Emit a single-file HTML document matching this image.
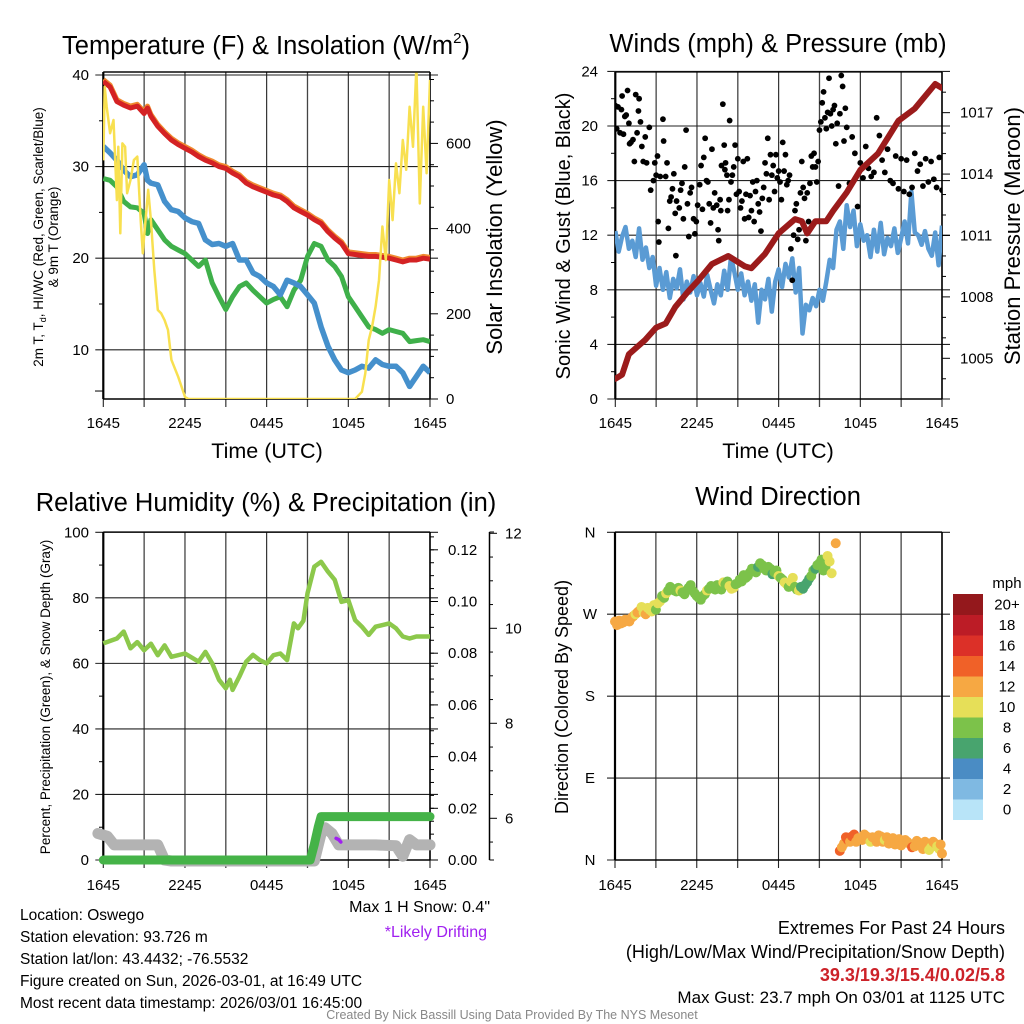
<!DOCTYPE html>
<html><head><meta charset="utf-8"><style>
html,body{margin:0;padding:0;background:#fff;}
svg{display:block;font-family:"Liberation Sans",sans-serif;}
</style></head><body>
<svg id="fig" width="1024" height="1024" viewBox="0 0 1024 1024" xmlns="http://www.w3.org/2000/svg">
<defs>
<clipPath id="c1"><rect x="103" y="72" width="327" height="327"/></clipPath>
<clipPath id="c2"><rect x="615" y="72" width="327" height="327"/></clipPath>
<clipPath id="c3"><rect x="92" y="520" width="350" height="350"/></clipPath>
<clipPath id="c4"><rect x="605" y="525" width="345" height="345"/></clipPath>
</defs>
<rect width="1024" height="1024" fill="#fff"/>
<g id="static" font-size="14" fill="#000">
<text x="266" y="54" font-size="25.5" text-anchor="middle">Temperature (F) &amp; Insolation (W/m<tspan font-size="15" dy="-11">2</tspan><tspan dy="11">)</tspan></text>
<text x="778" y="52" font-size="25.5" text-anchor="middle">Winds (mph) &amp; Pressure (mb)</text>
<text x="266" y="511" font-size="25.5" text-anchor="middle">Relative Humidity (%) &amp; Precipitation (in)</text>
<text x="778" y="505" font-size="25.5" text-anchor="middle">Wind Direction</text>
<text x="267" y="458" font-size="21.5" text-anchor="middle">Time (UTC)</text>
<text x="778" y="458" font-size="21.5" text-anchor="middle">Time (UTC)</text>
<text transform="translate(43,237) rotate(-90)" font-size="13.5" text-anchor="middle">2m T, T<tspan font-size="9" dy="3">d</tspan><tspan dy="-3">, HI/WC (Red, Green, Scarlet/Blue)</tspan></text>
<text transform="translate(58,237) rotate(-90)" font-size="13.5" text-anchor="middle">&amp; 9m T (Orange)</text>
<text transform="translate(502,237) rotate(-90)" font-size="22" text-anchor="middle">Solar Insolation (Yellow)</text>
<text transform="translate(570,236) rotate(-90)" font-size="20" text-anchor="middle">Sonic Wind &amp; Gust (Blue, Black)</text>
<text transform="translate(1020,236) rotate(-90)" font-size="22" text-anchor="middle">Station Pressure (Maroon)</text>
<text transform="translate(50,697) rotate(-90)" font-size="13.5" text-anchor="middle">Percent, Precipitation (Green), &amp; Snow Depth (Gray)</text>
<text transform="translate(568,697) rotate(-90)" font-size="18" text-anchor="middle">Direction (Colored By Speed)</text>
<text x="490" y="912" font-size="16" text-anchor="end">Max 1 H Snow: 0.4"</text>
<text x="487" y="937" font-size="16" text-anchor="end" fill="#a020f0">*Likely Drifting</text>
<text x="20" y="920" font-size="15.5">Location: Oswego</text>
<text x="20" y="942" font-size="15.5">Station elevation: 93.726 m</text>
<text x="20" y="964" font-size="15.5">Station lat/lon: 43.4432; -76.5532</text>
<text x="20" y="986" font-size="15.5">Figure created on Sun, 2026-03-01, at 16:49 UTC</text>
<text x="20" y="1008" font-size="15.5">Most recent data timestamp: 2026/03/01 16:45:00</text>
<text x="1005" y="934" font-size="18" text-anchor="end">Extremes For Past 24 Hours</text>
<text x="1005" y="958" font-size="18" text-anchor="end">(High/Low/Max Wind/Precipitation/Snow Depth)</text>
<text x="1005" y="981" font-size="18" text-anchor="end" fill="#cc2229" font-weight="bold">39.3/19.3/15.4/0.02/5.8</text>
<text x="1005" y="1003" font-size="17" text-anchor="end">Max Gust: 23.7 mph On 03/01 at 1125 UTC</text>
<text x="512" y="1019" font-size="12.5" fill="#888" text-anchor="middle">Created By Nick Bassill Using Data Provided By The NYS Mesonet</text>
<text x="1007" y="588" font-size="15" text-anchor="middle">mph</text>
</g>
<g id="dyn"></g>
</svg>
<script>
// ---------- DATA ----------
const xTickLabels = ["1645","2245","0445","1045","1645"];
const tempT = [0,0.5,1,1.5,2,2.5,3,3.25,3.5,4,4.5,5,5.5,6,6.5,7,7.5,8,8.5,9,9.5,10,10.5,11,11.5,12,12.5,13,13.5,14,14.5,15,15.5,16,16.5,17,17.5,18,18.5,19,19.5,20,20.5,21,21.5,22,22.5,23,23.5,24];
const redT = [39.3,38.7,37.1,36.7,36.4,36.6,35.8,36.4,35.5,34.4,33.6,32.9,32.4,32.0,31.6,31.1,30.7,30.4,30.0,29.8,29.3,28.9,28.2,27.8,27.5,27.2,26.9,26.7,26.2,25.5,25.1,24.7,24.2,23.8,22.9,22.2,21.6,20.5,20.4,20.3,20.2,20.2,20.1,20.0,19.8,19.6,19.8,19.8,20.0,19.9];
const orangeT = [39.5,38.9,37.3,36.9,36.6,36.8,36.0,36.6,35.7,34.6,33.8,33.1,32.6,32.2,31.8,31.3,30.9,30.6,30.2,30.0,29.5,29.1,28.4,28.0,27.7,27.4,27.1,26.9,26.4,25.7,25.3,24.9,24.4,24.0,23.1,22.4,21.8,20.7,20.6,20.5,20.4,20.4,20.3,20.2,20.0,19.8,20.0,20.0,20.2,20.1];
const blueT = [32.2,31.5,30.7,29.6,28.9,29.1,30.2,28.5,28.2,28.0,26.2,25.3,25.1,24.4,24.0,23.8,22.0,21.5,21.6,21.3,21.6,19.8,19.8,18.4,18.0,17.3,16.9,16.0,17.6,17.3,16.9,16.0,15.1,12.5,10.4,8.9,7.8,7.5,7.8,8.2,8.0,8.9,8.4,8.2,8.2,7.5,6.0,7.1,8.2,7.5];
const greenT = [28.7,28.5,27.8,26.2,25.6,25.5,24.9,22.7,24.2,23.1,22.0,21.3,20.9,20.5,19.8,19.1,19.8,17.3,15.8,14.4,15.8,16.9,17.3,16.5,15.8,15.1,15.5,15.8,14.7,16.5,17.6,20.2,21.6,21.3,19.8,19.1,18.0,15.8,14.7,13.6,12.5,12.2,11.8,12.2,12.0,11.8,10.9,11.0,11.1,10.9];
const solarT = [0,0.1,0.25,0.5,0.75,1,1.1,1.25,1.4,1.6,1.75,2,2.25,2.5,2.75,2.9,3,3.3,3.5,3.75,4,4.25,4.5,4.75,5,5.5,6,6.25,18.5,19,19.25,19.5,19.75,20,20.25,20.5,20.75,21,21.25,21.5,21.75,22,22.25,22.5,22.75,23,23.25,23.5,23.75,24];
const solarV = [560,733,686,624,655,467,592,389,600,592,483,514,561,569,420,342,381,491,420,303,209,201,185,162,92,52,5,0,0,17,60,138,170,217,279,405,326,514,420,553,483,608,538,686,592,780,459,686,530,749];
const tempTicks = [10,20,30,40];
const solarTicks = [0,200,400,600];

const windT = []; // times at 0.25 h steps, indexed from windV
const windV = [12.3,10.8,11.9,12.6,11.0,11.6,10.4,12.5,10.2,11.1,9.6,10.4,8.3,
9.6,8.0,9.3,7.4,8.8,8.1,9.5,7.3,8.6,7.8,9.0,7.6,
8.5,7.5,9.1,8.0,7.0,8.4,7.6,9.4,8.0,10.4,9.3,8.0,
9.2,7.6,8.6,7.2,8.4,5.6,8.0,7.3,8.8,6.4,8.6,9.5,
8.2,9.9,8.9,10.3,7.8,9.6,4.8,6.9,6.5,7.4,6.8,8.0,
7.2,8.6,10.2,9.6,12.4,13.0,11.0,14.2,12.6,13.8,11.2,12.8,
11.6,12.0,10.4,12.4,10.8,12.9,10.6,11.8,11.2,12.5,10.7,11.8,
13.0,11.4,15.2,12.2,12.0,11.3,12.3,11.0,10.5,12.2,9.8,12.7];
const presT = [0,0.5,1,2.2,3,3.7,4.4,5.4,6.1,7.1,8.3,9.5,10,11,12,13.2,13.7,14.1,14.7,15.5,16,17,18,19.3,20.8,22,23,23.5,24];
const presV = [1004.0,1004.2,1005.2,1005.9,1006.5,1006.7,1007.5,1008.3,1008.8,1009.6,1010.0,1009.5,1009.4,1010.1,1011.1,1011.8,1011.7,1011.1,1011.7,1011.7,1012.2,1013.1,1014.2,1015.0,1016.6,1017.2,1018.0,1018.4,1018.2];
const gustT = [0,0.1,0.2,0.35,0.45,0.5,0.6,0.7,0.8,0.9,1.0,1.05,1.15,1.3,1.4,1.5,1.6,1.7,1.75,1.85,1.95,2.05,2.2,2.3,2.5,2.6,2.8,2.9,3.0,3.1,3.15,3.2,3.3,3.5,3.55,3.7,3.8,3.9,4.0,4.1,4.2,4.3,4.4,4.45,4.5,4.7,4.8,4.9,5.0,5.1,5.2,5.3,5.4,5.5,5.6,5.75,5.85,5.95,6.05,6.2,6.3,6.4,6.5,6.6,6.7,6.8,6.9,7.0,7.1,7.2,7.3,7.45,7.55,7.6,7.7,7.75,7.8,7.9,8.0,8.05,8.1,8.2,8.25,8.35,8.4,8.5,8.6,8.7,8.8,8.9,9.0,9.1,9.2,9.3,9.4,9.5,9.6,9.7,9.8,9.9,10.0,10.1,10.2,10.3,10.4,10.5,10.6,10.7,10.8,10.9,11.0,11.1,11.2,11.3,11.4,11.5,11.6,11.7,11.8,11.9,12.0,12.1,12.2,12.3,12.4,12.5,12.6,12.7,12.8,12.9,13.0,13.1,13.2,13.3,13.4,13.5,13.6,13.7,13.8,13.9,14.0,14.1,14.2,14.3,14.4,14.5,14.6,14.7,14.8,14.9,15.0,15.1,15.2,15.3,15.4,15.5,15.6,15.7,15.8,15.9,16.0,16.1,16.2,16.3,16.4,16.5,16.6,16.7,16.8,16.9,17.0,17.2,17.4,17.6,17.8,18.0,18.2,18.4,18.6,18.8,19.0,19.2,19.4,19.6,19.8,20.0,20.2,20.4,20.6,20.8,21.0,21.2,21.4,21.6,21.8,22.0,22.2,22.4,22.6,22.8,23.0,23.2,23.4,23.6,23.8,24.0];
const gustV = [21.5,19.8,21.4,19.5,21.2,22.2,19.4,20.7,20.8,22.6,20.2,18.7,18.8,19.0,17.4,22.3,19.5,21.1,22.0,20.3,18.5,17.4,19.2,17.3,19.9,15.3,16.0,17.3,16.4,17.8,13.0,11.5,16.3,20.5,18.9,16.3,17.3,12.5,14.5,14.8,15.4,16.5,13.6,10.5,14.5,14.0,15.3,15.8,13.2,17.0,19.7,14.3,11.9,15.1,15.5,13.2,12.1,13.0,14.2,15.7,17.1,13.9,17.7,19.1,16.0,15.9,14.3,12.9,18.3,14.0,15.1,14.2,12.4,11.6,14.6,13.8,17.1,21.6,18.6,16.8,17.3,16.4,13.8,14.6,20.4,15.9,16.4,17.0,18.6,15.0,17.6,15.2,14.0,14.5,17.4,13.2,15.0,17.6,13.3,14.9,13.8,15.9,13.0,15.2,16.0,14.3,13.7,12.3,14.7,15.5,17.3,16.5,19.1,14.6,17.9,16.4,17.1,15.2,17.9,16.2,16.7,15.9,14.6,18.8,16.7,17.9,15.7,16.0,16.4,11.0,8.7,12.0,13.8,14.3,11.7,12.4,15.1,17.4,15.5,14.7,11.6,15.1,13.0,15.8,17.8,17.0,18.0,17.0,15.9,17.4,19.7,20.3,21.7,22.5,20.6,19.8,21.0,23.5,20.9,20.0,21.2,21.5,18.7,20.2,15.6,20.9,23.7,22.9,18.9,21.3,19.9,15.8,19.2,18.0,14.1,17.3,16.2,18.5,16.9,16.3,16.6,20.6,19.3,17.5,16.6,18.3,16.0,15.8,17.8,15.4,17.6,15.2,17.5,15.0,15.5,18.0,16.7,17.2,15.6,17.6,15.9,17.4,16.1,15.5,17.7,15.3,17.5];
const windTicks = [0,4,8,12,16,20,24];
const presTicks = [1005,1008,1011,1014,1017];

const rhT = [0,1,1.5,2,2.5,3,3.5,4,4.5,5,6,7,7.5,8,8.5,9,9.3,9.5,10,10.5,11,11.5,12,12.5,13,13.5,14,14.3,14.7,15,15.5,16,16.5,17,17.5,18,18.5,19,19.5,20,21,21.5,22,22.5,23,24];
const rhV = [66.1,67.6,69.7,64.6,66.5,64.0,66.0,62.5,65.5,62.0,63.0,60.5,63.5,60.0,55.0,52.4,55.0,51.9,56.0,60.5,62.6,61.0,60.0,62.5,63.0,61.0,72.2,70.7,73.0,81.4,89.5,91.0,88.0,85.5,78.8,79.3,73.2,71.2,68.7,71.2,72.2,70.7,68.2,67.6,68.2,68.2];
const precT = [0,15.2,15.5,15.8,16.0,24];
const precV = [0,0,0.006,0.013,0.0168,0.0168];
const snowT = [-0.4,0.3,0.8,2,3,4,4.5,5,10,15.5,16,16.3,16.8,17.3,18,20,21.5,22,22.5,23,24];
const snowV = [5.68,5.62,5.44,5.44,5.44,5.44,5.12,5.1,5.1,5.1,5.68,5.80,5.68,5.44,5.44,5.44,5.42,5.2,5.55,5.44,5.44];
const driftT = [17.1,17.3,17.45];
const driftV = [5.58,5.55,5.5];
const rhTicks = [0,20,40,60,80,100];
const precTicks = [0.00,0.02,0.04,0.06,0.08,0.10,0.12];
const snowTicks = [6,8,10,12];

const dirT = [0,0.15,0.3,0.45,0.6,0.75,0.9,1.05,1.2,1.35,1.5,1.65,1.8,1.95,2.1,2.25,2.4,2.55,2.7,2.85,3.0,3.15,3.3,3.45,3.6,3.75,3.9,4.05,4.2,4.35,4.5,4.65,4.8,4.95,5.1,5.25,5.4,5.55,5.7,5.85,6.0,6.15,6.3,6.45,6.6,6.75,6.9,7.05,7.2,7.35,7.5,7.65,7.8,7.95,8.1,8.25,8.4,8.55,8.7,8.85,9.0,9.15,9.3,9.45,9.6,9.75,9.9,10.05,10.2,10.35,10.5,10.65,10.8,10.95,11.1,11.25,11.4,11.55,11.7,11.85,12.0,12.15,12.3,12.45,12.6,12.75,12.9,13.05,13.2,13.35,13.5,13.65,13.8,13.95,14.1,14.25,14.4,14.55,14.7,14.85,15.0,15.15,15.3,15.45,15.6,15.75,15.9,16.2,
16.5,16.65,16.8,16.95,17.1,17.25,17.4,17.55,17.7,17.85,18.0,18.15,18.3,18.45,18.6,18.75,18.9,19.05,19.2,19.35,19.5,19.65,19.8,19.95,20.1,20.25,20.4,20.55,20.7,20.85,21.0,21.15,21.3,21.45,21.6,21.8,22.0,22.15,22.3,22.45,22.6,22.75,22.9,23.05,23.2,23.35,23.5,23.65,23.8,23.9,24.0];
const dirV = [262,258,263,260,261,264,263,262,266,268,270,272,274,278,272,270,277,275,273,280,275,282,284,290,288,293,296,300,298,296,295,299,296,294,292,296,299,302,296,293,290,288,286,290,292,296,298,301,300,297,302,300,297,305,303,306,301,298,299,303,304,308,306,313,310,312,316,320,318,316,322,326,324,320,318,322,320,314,316,318,312,310,308,305,303,300,306,310,300,297,296,300,298,302,305,309,312,318,320,324,326,330,318,322,334,328,315,348,
10,14,18,25,22,20,26,28,20,24,24,22,28,26,23,20,25,24,20,27,26,20,22,25,18,21,24,17,20,23,16,19,22,20,18,14,15,21,19,16,12,20,17,11,14,20,18,15,12,17,7];
const dirTickLabels = ["N","E","S","W","N"];
const cbarLabels = ["0","2","4","6","8","10","12","14","16","18","20+"];
const cbarColors = ["#b8e4f8","#7fb9e2","#4a8cc4","#48a46e","#7cc24a","#e6df58","#f6a843","#f06128","#dc3028","#bc1c26","#94181c"];
for (let i=0;i<windV.length;i++) windT.push(i*0.25);

// ---------- AXES ----------
const x1 = t => 103.3 + t*(326.7/24);
const yT = v => 75 + (40-v)*9.16;
const yI = w => 399 - w*0.426;
const x2 = t => 615.3 + t*(326.7/24);
const yW = v => 399 - v*13.65;
const yP = p => 358.3 - (p-1005)*20.47;
const x3 = x1;
const yRH = v => 860 - v*3.277;
const yPr = p => 860 - p*2585;
const ySn = s => 818.3 - (s-6)*47.5;
const x4 = t => 615 + t*(327/24);
const yD = d => 860 - d*(327.7/360);

const NS = "http://www.w3.org/2000/svg";
const root = document.getElementById('dyn');
function mk(tag, attrs, parent){ const e=document.createElementNS(NS,tag); for(const k in attrs) e.setAttribute(k,attrs[k]); (parent||root).appendChild(e); return e; }
function grp(clip){ const g=mk('g', clip?{'clip-path':'url(#'+clip+')'}:{}); return g; }
function path(xs, ys, fx, fy){ let d=''; for(let i=0;i<xs.length;i++){ d+=(i?'L':'M')+fx(xs[i]).toFixed(1)+','+fy(ys[i]).toFixed(1); } return d; }
function txt(x,y,s,anchor,size,parent){ const e=mk('text',{x:x,y:y,'text-anchor':anchor||'middle','font-size':size||15},parent); e.textContent=s; return e; }

function frame(L,T,R,B,hGrid,xlabY){
  const g=grp();
  
  
  for(let i=0;i<=8;i++){ const x=L+(R-L)*i/8; mk('line',{x1:x,y1:T,x2:x,y2:B+8,stroke:i%2?'#444':'#222','stroke-width':i%2?1.3:1.1},g); }
  hGrid.forEach(y=>{ mk('line',{x1:L-8,y1:y,x2:R+8,y2:y,stroke:'#222','stroke-width':1.1},g); });
  mk('line',{x1:L,y1:T,x2:L,y2:B,stroke:'#000','stroke-width':2.2},g);
  mk('line',{x1:R,y1:T,x2:R,y2:B,stroke:'#000','stroke-width':1.6},g);
  mk('line',{x1:L,y1:T,x2:R,y2:T,stroke:'#000','stroke-width':1.3},g);
  mk('line',{x1:L,y1:B,x2:R,y2:B,stroke:'#000','stroke-width':1.6},g);
  xTickLabels.forEach((s,i)=>{ const e=txt(L+(R-L)*i/4, xlabY, s);   });
  return g;
}

// ---------- PANEL 1 ----------
frame(103.3,72,430,399,tempTicks.map(yT),428);
tempTicks.forEach(v=>{ const e=txt(89,yT(v)+5,String(v),'end');   });
mk('line',{x1:95,y1:yT(5.5),x2:103,y2:yT(5.5),stroke:'#000'});
solarTicks.forEach(v=>{ const e=txt(446,yI(v)+5,String(v),'start');   mk('line',{x1:430,y1:yI(v),x2:438,y2:yI(v),stroke:'#000'}); });
for(let w=50;w<=750;w+=50){ if(w%200) mk('line',{x1:430,y1:yI(w),x2:434,y2:yI(w),stroke:'#000'}); }
[15,25,35].forEach(v=>mk('line',{x1:99,y1:yT(v),x2:103,y2:yT(v),stroke:'#000'}));
{ const g=grp('c1');
  let e=mk('path',{d:path(tempT,greenT,x1,yT),fill:'none',stroke:'#3fb04a','stroke-width':5,'stroke-linejoin':'round'},g);
   
  e=mk('path',{d:path(tempT,blueT,x1,yT),fill:'none',stroke:'#4590cc','stroke-width':5.5,'stroke-linejoin':'round'},g);
   
  e=mk('path',{d:path(tempT,orangeT,x1,yT),fill:'none',stroke:'#f08a30','stroke-width':5,'stroke-linejoin':'round'},g);
   
  e=mk('path',{d:path(tempT,redT,x1,yT),fill:'none',stroke:'#d42224','stroke-width':5,'stroke-linejoin':'round'},g);
   
  e=mk('path',{d:path(solarT,solarV,x1,yI),fill:'none',stroke:'#f8e050','stroke-width':2.5,'stroke-linejoin':'round'},g);
   
}
mk('line',{x1:103.3,y1:72,x2:430,y2:72,stroke:'#000','stroke-width':1.3});

// ---------- PANEL 2 ----------
frame(615.3,72,942,399,windTicks.map(yW),428);
windTicks.forEach(v=>{ const e=txt(598,yW(v)+5,String(v),'end');   });
[2,6,10,14,18,22].forEach(v=>mk('line',{x1:611,y1:yW(v),x2:615,y2:yW(v),stroke:'#000'}));
presTicks.forEach(v=>{ const e=txt(960,yP(v)+5,String(v),'start');   mk('line',{x1:942,y1:yP(v),x2:950,y2:yP(v),stroke:'#000'}); });
for(let p=1004;p<=1018;p++){ if((p-1005)%3) mk('line',{x1:942,y1:yP(p),x2:946,y2:yP(p),stroke:'#000'}); }
{ const g=grp('c2');
  let e=mk('path',{d:path(windT,windV,x2,yW),fill:'none',stroke:'#5a9bd4','stroke-width':4.5,'stroke-linejoin':'round'},g);
   
  gustT.forEach((t,i)=>{ const c=mk('circle',{cx:x2(t),cy:yW(gustV[i]),r:2.9,fill:'#000'},g);
    
     });
  e=mk('path',{d:path(presT,presV,x2,yP),fill:'none',stroke:'#9b1b1b','stroke-width':6,'stroke-linejoin':'round','stroke-linecap':'round'},g);
   
}

// ---------- PANEL 3 ----------
frame(103.3,532,430,860,rhTicks.map(yRH),890);
rhTicks.forEach(v=>{ const e=txt(89,yRH(v)+5,String(v),'end');   });
[10,30,50,70,90].forEach(v=>mk('line',{x1:99,y1:yRH(v),x2:103,y2:yRH(v),stroke:'#000'}));
precTicks.forEach(v=>{ const e=txt(448,yPr(v)+5,v.toFixed(2),'start');   mk('line',{x1:430,y1:yPr(v),x2:438,y2:yPr(v),stroke:'#000'}); });
for(let p=0.005;p<0.13;p+=0.005){ mk('line',{x1:430,y1:yPr(p),x2:434,y2:yPr(p),stroke:'#000'}); }
mk('line',{x1:489.5,y1:532,x2:489.5,y2:860,stroke:'#000','stroke-width':1.5});
snowTicks.forEach(v=>{ const e=txt(505,ySn(v)+5,String(v),'start');   mk('line',{x1:489.5,y1:ySn(v),x2:497,y2:ySn(v),stroke:'#000'}); });
for(let s=5.5;s<12;s+=0.5){ if(s%2) mk('line',{x1:489.5,y1:ySn(s),x2:493,y2:ySn(s),stroke:'#000'}); }
mk('line',{x1:489.5,y1:532,x2:494,y2:532,stroke:'#000'});
mk('line',{x1:489.5,y1:860,x2:494,y2:860,stroke:'#000'});
{ const g=grp('c3');
  let e=mk('path',{d:path(snowT,snowV,x3,ySn),fill:'none',stroke:'#b3b3b3','stroke-width':11,'stroke-linejoin':'round','stroke-linecap':'round'},g);
   
  e=mk('path',{d:path(precT,precV,x3,yPr),fill:'none',stroke:'#45b348','stroke-width':9,'stroke-linejoin':'round','stroke-linecap':'round'},g);
   
  e=mk('path',{d:path(driftT,driftV,x3,ySn),fill:'none',stroke:'#a020f0','stroke-width':3.5,'stroke-linecap':'round'},g);
   
  e=mk('path',{d:path(rhT,rhV,x3,yRH),fill:'none',stroke:'#8cc84b','stroke-width':4.5,'stroke-linejoin':'round'},g);
   
}

// ---------- PANEL 4 ----------
frame(615,532,942,860,[0,90,180,270,360].map(yD),890);
dirTickLabels.forEach((s,i)=>{ const e=txt(590,yD(i*90)+5,s,'middle');   });
function windAt(t){ for(let i=1;i<windT.length;i++){ if(windT[i]>=t){ const f=(t-windT[i-1])/(windT[i]-windT[i-1]); return windV[i-1]+f*(windV[i]-windV[i-1]); } } return windV[windV.length-1]; }
function colorFor(v){ let b=Math.round(v/2); if(b<0)b=0; if(b>10)b=10; return cbarColors[b]; }
{ const g=grp('c4');
  dirT.forEach((t,i)=>{ const c=mk('circle',{cx:x4(t),cy:yD(dirV[i]),r:5,fill:colorFor(windAt(t))},g);
    
     });
}
// colorbar
{ const g=mk('g',{});
  
  
  const top=594, h=20.5;
  cbarLabels.forEach((s,i)=>{ const k=cbarLabels.length-1-i; const y=top+k*h;
    const r=mk('rect',{x:953,y:y,width:30,height:h+0.5,fill:cbarColors[i]},g);
    
    
    const t=txt(1007,y+h/2+5,s,'middle',15,g);
    
     });
}
</script>
</body></html>
